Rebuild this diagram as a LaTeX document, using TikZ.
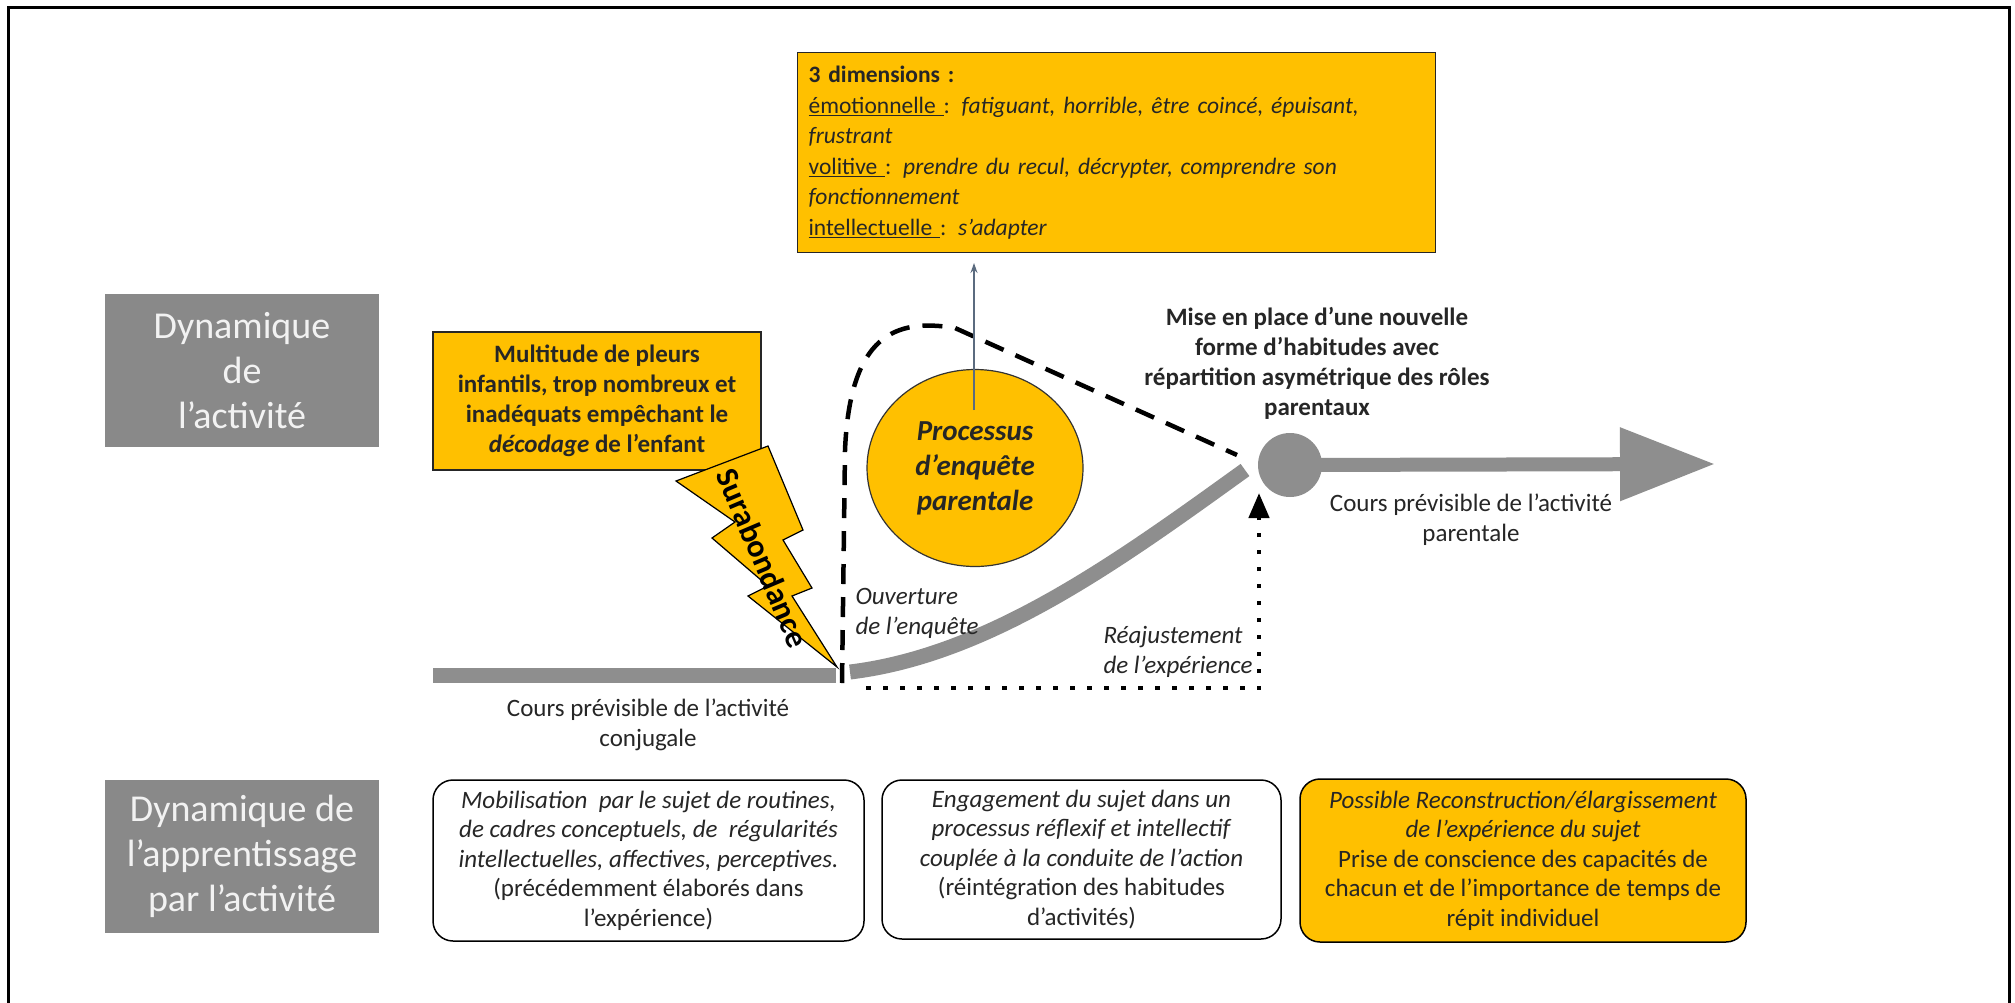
\documentclass[tikz,border=0pt]{standalone}
\usepackage{fontspec}
\setmainfont{Carlito}
\usetikzlibrary{arrows.meta,shapes.geometric}
\definecolor{orng}{HTML}{FFC000}
\definecolor{grayb}{HTML}{898989}
\definecolor{grayl}{HTML}{8E8E8E}
\definecolor{txt}{HTML}{262626}
\definecolor{arrowblue}{HTML}{5B6B7F}
\begin{document}
\begin{tikzpicture}[x=1pt,y=-1pt,
  graylabel/.style={fill=grayb, text=white!95!black, font=\fontsize{38}{45}\selectfont, align=center, minimum width=274pt, minimum height=153pt, inner sep=0pt},
  obox/.style={draw=black!85, fill=orng, line width=1.2pt, text=txt},
  rbox/.style={draw=black, rounded corners=20pt, line width=1.5pt, align=center, font=\fontsize{25}{29.5}\selectfont, inner sep=0pt, text=txt},
  lbl/.style={text=txt, align=center, font=\fontsize{25}{30}\selectfont},
  track/.style={draw=grayl, line width=15pt},
  dashloop/.style={draw=black, line width=4.5pt, dash pattern=on 20pt off 13pt},
  dotline/.style={draw=black, line width=4.5pt, dash pattern=on 4.5pt off 12.5pt}
]
\useasboundingbox (0,0) rectangle (2015,1002);
\fill[white] (0,0) rectangle (2015,1002);
% frame
\draw[line width=3pt] (8,1010) -- (8,7) -- (2009,7) -- (2009,1010);

% left labels
\node[graylabel] (dynact) at (242,370.5) {Dynamique\\de\\l’activité};
\node[graylabel] (dynapp) at (242,856.5) {Dynamique de\\l’apprentissage\\par l’activité};

% top box
\node[obox, anchor=north west, minimum width=638pt, minimum height=200pt, text width=616pt, inner xsep=11pt, inner ysep=0pt, align=left, font=\fontsize{23.5}{30.5}\selectfont] (dims) at (797,52)
{\textbf{3 dimensions :}\\
\underline{émotionnelle }: \textit{fatiguant, horrible, être coincé, épuisant,}\\
\textit{frustrant}\\
\underline{volitive }: \textit{prendre du recul, décrypter, comprendre son}\\
\textit{fonctionnement}\\
\underline{intellectuelle }: \textit{s’adapter}};

% multitude box
\node[obox, minimum width=328pt, minimum height=138pt, inner sep=0pt, align=center, font=\bfseries\fontsize{25}{30}\selectfont] (mult) at (597,401)
{Multitude de pleurs\\infantils, trop nombreux et\\inadéquats empêchant le\\\textit{décodage} de l’enfant};

% tracks
\coordinate (conjA) at (433,675.5);
\coordinate (conjB) at (836,675.5);
\draw[track] (conjA) -- (conjB);
\coordinate (curveA) at (850,672);
\coordinate (curveB) at (1245,470);
\draw[track] (curveA) .. controls (990,655) and (1120,560) .. (curveB);

% lightning
\fill[orng, draw=black, line width=1.2pt] (676,481) -- (735,522) -- (712,538) -- (768,586) -- (748,596) -- (837,667) -- (792,596) -- (812,588) -- (783,540) -- (803,530) -- (768,446) -- cycle;
\node[text=black, font=\bfseries\fontsize{32}{33}\selectfont, rotate=-67, inner sep=0pt] (sur) at (763,558) {Surabondance};

% dashed loop
\coordinate (loopA) at (842,683);
\coordinate (loopB) at (1237,455);
\draw[dashloop] (loopA) -- (845,450) .. controls (850,335) and (895,318) .. (955,328) -- (loopB);

% process circle
\node[ellipse, draw=black!80, fill=orng, line width=1.2pt, minimum width=216pt, minimum height=197pt, inner sep=0pt, align=center, text=txt, font=\bfseries\itshape\fontsize{29}{35}\selectfont] (proc) at (975,468) {Processus\\d’enquête\\parentale};
\coordinate (arrS) at (974,410);
\coordinate (arrT) at (974,263);
\draw[arrowblue, line width=1.5pt, -{Stealth[length=10pt,width=7pt]}] (arrS) -- (arrT);

% hub and big arrow
\node[circle, fill=grayl, minimum size=64pt, inner sep=0pt] (hub) at (1290,465) {};
\coordinate (bigT) at (1715,464);
\draw[grayl, line width=14pt, -{Triangle[length=95pt,width=70pt]}] (hub.center) -- (bigT);

% dotted path
\coordinate (dotA) at (866,688);
\coordinate (dotC) at (1259,688);
\coordinate (dotT) at (1259,493);
\draw[dotline, -{Triangle[length=25pt,width=20pt]}] (dotA) -- (dotC) -- (dotT);

% labels
\node[lbl, font=\bfseries\fontsize{25}{30}\selectfont] (mise) at (1317,363) {Mise en place d’une nouvelle\\forme d’habitudes avec\\répartition asymétrique des rôles\\parentaux};
\node[lbl] (parlbl) at (1471,520) {Cours prévisible de l’activité\\parentale};
\node[lbl] (conjlbl) at (648,725) {Cours prévisible de l’activité\\conjugale};
\node[lbl, anchor=west, align=left, font=\itshape\fontsize{25}{30}\selectfont] (ouv) at (852,613) {Ouverture\\de l’enquête};
\node[lbl, anchor=west, align=left, font=\itshape\fontsize{25}{30}\selectfont] (reaj) at (1100,652) {Réajustement\\de l’expérience};

% bottom boxes
\node[rbox, minimum width=431pt, minimum height=161pt] (b1) at (648.5,860.5)
{\textit{Mobilisation\ \ par le sujet de routines,}\\\textit{de cadres conceptuels, de\ \ régularités}\\\textit{intellectuelles, affectives, perceptives.}\\(précédemment élaborés dans\\l’expérience)};
\node[rbox, minimum width=399pt, minimum height=159pt] (b2) at (1081.5,859.5)
{\textit{Engagement du sujet dans un}\\\textit{processus réflexif et intellectif}\\\textit{couplée à la conduite de l’action}\\(réintégration des habitudes\\d’activités)};
\node[rbox, fill=orng, minimum width=446pt, minimum height=163pt] (b3) at (1523,860.5)
{\textit{Possible Reconstruction/élargissement}\\\textit{de l’expérience du sujet}\\Prise de conscience des capacités de\\chacun et de l’importance de temps de\\répit individuel};
\end{tikzpicture}
\end{document}
